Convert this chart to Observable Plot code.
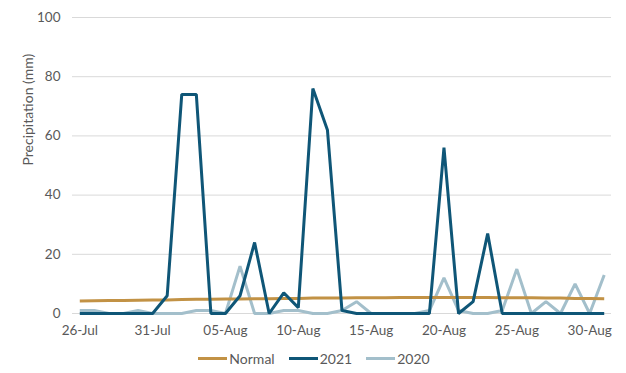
<!DOCTYPE html>
<html>
<head>
<meta charset="utf-8">
<script src="https://cdn.jsdelivr.net/npm/d3@7"></script>
<script src="https://cdn.jsdelivr.net/npm/@observablehq/plot@0.6"></script>
<style>
  html, body { margin: 0; padding: 0; background: #fff; }
  body { width: 626px; height: 373px; overflow: hidden; font-family: Lato, "Open Sans", sans-serif; }
  #legend { display: flex; justify-content: center; align-items: center; gap: 14px; height: 33px; font-size: 14px; color: #595959; margin-left: 2px; padding-top: 2px; }
  .item { display: flex; align-items: center; }
  .sw { display: inline-block; width: 29px; height: 3px; margin-right: 2px; }
</style>
</head>
<body>
<div id="chart"></div>
<div id="legend"></div>
<script>
// Daily dates, 26 Jul to 31 Aug
const startDate = new Date(Date.UTC(2021, 6, 26));
const dates = d3.utcDay.range(startDate, new Date(Date.UTC(2021, 8, 1)));

const normal = [4.2,4.3,4.4,4.4,4.5,4.6,4.6,4.7,4.8,4.8,4.9,4.9,5.0,5.0,5.1,5.1,5.2,5.2,5.2,5.3,5.3,5.3,5.4,5.4,5.4,5.4,5.4,5.4,5.4,5.3,5.3,5.3,5.2,5.2,5.1,5.1,5.0];
const y2021 = [0,0,0,0,0,0,6,74,74,0,0,6,24,0,7,2,76,62,1,0,0,0,0,0,0,56,0,4,27,0,0,0,0,0,0,0,0];
const y2020 = [1,1,0,0,1,0,0,0,1,1,0,16,0,0,1,1,0,0,1,4,0,0,0,0,1,12,1,0,0,1,15,0,4,0,10,0,13];

const yTicks = [0, 20, 40, 60, 80, 100];
const xTickDates = dates.filter((d, i) => i % 5 === 0);

const series = [
  {name: "Normal", values: normal, color: "#C29245"},
  {name: "2021", values: y2021, color: "#0F5677"},
  {name: "2020", values: y2020, color: "#A3BFCB"}
];
const rows = s => dates.map((d, i) => ({date: d, value: s.values[i], series: s.name}));

const drawOrder = [series[2], series[0], series[1]];

const chart = Plot.plot({
  width: 626,
  height: 340,
  marginLeft: 72,
  marginRight: 15,
  marginTop: 17,
  marginBottom: 27,
  style: {fontFamily: "Lato, 'Open Sans', sans-serif", fontSize: "13px", color: "#595959", background: "#fff"},
  x: {
    type: "utc",
    domain: [d3.utcHour.offset(startDate, -12), d3.utcHour.offset(dates[dates.length - 1], 12)],
    label: null
  },
  y: {
    domain: [0, 100],
    label: null
  },
  marks: [
    Plot.gridY(yTicks, {stroke: "#d9d9d9", strokeOpacity: 1, strokeWidth: 1}),
    Plot.axisY({ticks: yTicks, tickSize: 0, tickPadding: 12, fontSize: 13.5, fill: "#595959"}),
    Plot.axisX({ticks: xTickDates, tickFormat: d3.utcFormat("%d-%b"), tickSize: 0, tickPadding: 12, fontSize: 13.5, fill: "#595959"}),
    Plot.text(["Precipitation (mm)"], {frameAnchor: "left", dx: -44, rotate: -90, fontSize: 14, fill: "#595959"}),
    ...drawOrder.map(s => Plot.line(rows(s), {x: "date", y: "value", stroke: s.color, strokeWidth: 3, strokeLinejoin: "miter", strokeLinecap: "butt"}))
  ]
});
document.getElementById("chart").appendChild(chart);

const legend = document.getElementById("legend");
for (const s of series) {
  const item = document.createElement("div");
  item.className = "item";
  const sw = document.createElement("span");
  sw.className = "sw";
  sw.style.background = s.color;
  const t = document.createElement("span");
  t.textContent = s.name;
  item.appendChild(sw);
  item.appendChild(t);
  legend.appendChild(item);
}
</script>
</body>
</html>
